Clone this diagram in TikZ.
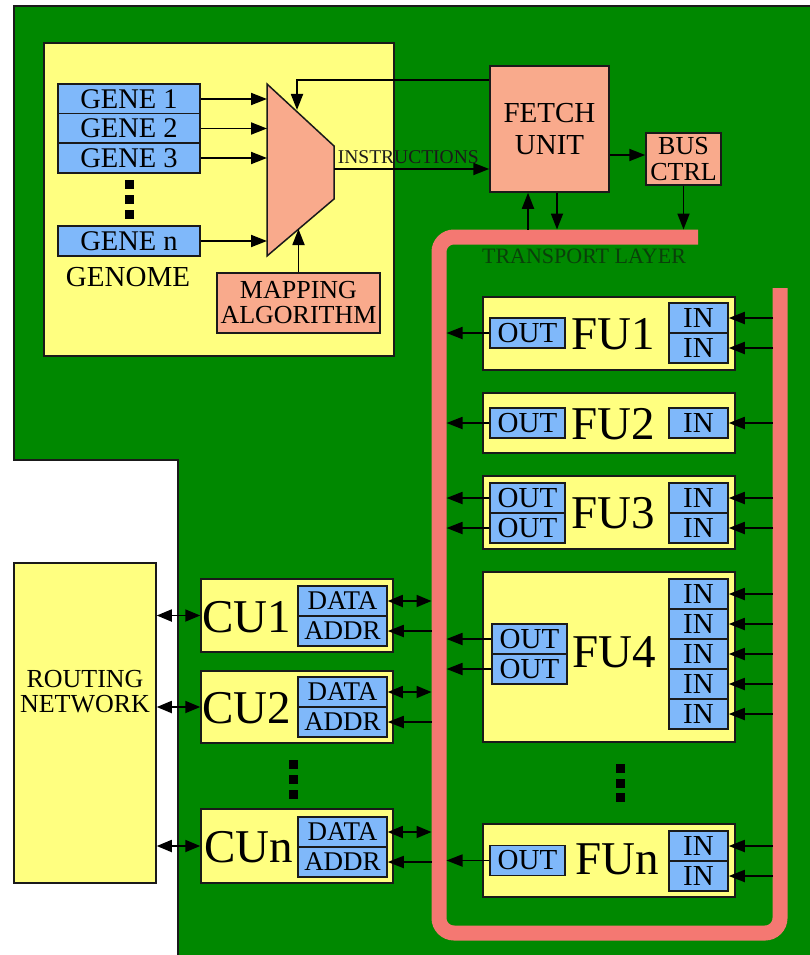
\documentclass[tikz,border=0pt]{standalone}
\usepackage{fontspec}
\setmainfont{Liberation Serif}
\usetikzlibrary{arrows.meta,positioning}
\definecolor{board}{HTML}{008800}
\definecolor{ink}{HTML}{1A1A1A}
\definecolor{pale}{HTML}{FFFF80}
\definecolor{port}{HTML}{7FB8FA}
\definecolor{unit}{HTML}{F9AA8C}
\definecolor{layercol}{HTML}{F47872}
\definecolor{layerink}{HTML}{0A3F0A}
\newcommand{\fsz}[2]{\fontsize{#1}{#2}\selectfont}
\tikzset{
  panel/.style={draw=ink,fill=pale,line width=1.5pt,inner sep=0pt},
  unitbox/.style={draw=ink,fill=unit,line width=1.5pt,inner sep=0pt,align=center},
  portbox/.style={draw=ink,fill=port,line width=1.5pt,inner sep=0pt,
                  minimum height=30pt,font=\fsz{29}{30}},
  genebox/.style={portbox,minimum width=142pt,font=\fsz{28.5}{30}},
  outbox/.style={portbox,minimum width=75pt},
  inbox/.style={portbox,minimum width=59pt},
  cuport/.style={portbox,minimum width=89pt,font=\fsz{27}{30}},
  biglabel/.style={font=\fsz{47}{50},inner sep=0pt},
  arr/.style={-{Triangle[length=16pt,width=12pt]},line width=1.8pt},
  dblarr/.style={{Triangle[length=15pt,width=12pt]}-{Triangle[length=15pt,width=12pt]},line width=1.8pt},
  layer/.style={draw=layercol,line width=15pt,rounded corners=15pt}
}

\begin{document}
\begin{tikzpicture}[x=1pt,y=-1pt]
  \useasboundingbox (0,0) rectangle (810,955);
  \draw[fill=board,draw=ink,line width=1.5pt] (14,6) -- (816,6) -- (816,961) -- (178,961)
    -- (178,460) -- (14,460) -- cycle;

  \node[panel,minimum width=350pt,minimum height=313pt] (genome) at (219,199.5) {};
  \node[genebox] (g1) at (129,99) {GENE 1};
  \node[genebox] (g2) at (129,128.5) {GENE 2};
  \node[genebox] (g3) at (129,158) {GENE 3};
  \node[genebox] (gn) at (129,241) {GENE n};
  \node[font=\fsz{29}{30}] (genomelbl) at (128,277) {GENOME};
  \draw[draw=ink,fill=unit,line width=1.5pt] (267,84) coordinate (muxtl) -- (334,146)
    -- (334,199) -- (267,256) coordinate (muxbl) -- cycle;
  \coordinate (muxout) at (334,169);
  \coordinate (muxin) at (297,110);
  \coordinate (muxmap) at (298.5,229);
  \foreach \g in {g1,g2,g3,gn}
    \draw[arr] (\g.east) -- (\g.east -| muxtl);
  \node[unitbox,minimum width=163pt,minimum height=60pt,font=\fsz{26}{25}] (mapalg) at (298.5,303) {MAPPING\\ALGORITHM};
  \draw[arr] (mapalg.north) -- (muxmap);

  \node[unitbox,minimum width=119pt,minimum height=126pt,font=\fsz{29}{32}] (fetch) at (549.5,129) {FETCH\\UNIT};
  \node[unitbox,minimum width=75pt,minimum height=52pt,font=\fsz{26}{26}] (busctrl) at (683.5,159) {BUS\\CTRL};
  \draw[arr] ([yshift=-15pt]fetch.north west) -| (muxin);
  \draw[arr] (muxout) -- (muxout -| fetch.west)
    node[pos=0,anchor=base west,xshift=2pt,yshift=6pt,inner sep=1pt,font=\fsz{19.5}{20},text=ink] (instr) {INSTRUCTIONS};
  \draw[arr] ([yshift=4pt]busctrl.west -| fetch.east) -- ([yshift=4pt]busctrl.west);

  \coordinate (tlL) at (431.5,0);
  \coordinate (tlLi) at (446.5,0);
  \coordinate (tlR) at (772.5,0);
  \coordinate (tlT) at (0,229.5);
  \draw[layer] (698,237) -- (439,237) -- (439,933) -- (780,933) -- (780,288);
  \node[font=\fsz{22}{24},text=layerink] (tlabel) at (584,256) {TRANSPORT LAYER};
  \draw[arr] ([xshift=-21.5pt]fetch.south |- tlT) -- ([xshift=-21.5pt]fetch.south);
  \draw[arr] ([xshift=7.5pt]fetch.south) -- ([xshift=7.5pt]fetch.south |- tlT);
  \draw[arr] (busctrl.south) -- (busctrl.south |- tlT);

  \node[panel,minimum width=252pt,minimum height=73pt] (fu1) at (609,333.5) {};
  \node[outbox] (fu1o) at (527.5,333) {OUT};
  \node[inbox] (fu1i1) at (698.5,318) {IN};
  \node[inbox] (fu1i2) at (698.5,348) {IN};
  \node[biglabel] (fu1l) at (613,334) {FU1};

  \node[panel,minimum width=252pt,minimum height=60pt] (fu2) at (609,423) {};
  \node[outbox] (fu2o) at (527.5,423) {OUT};
  \node[inbox] (fu2i1) at (698.5,423) {IN};
  \node[biglabel] (fu2l) at (613,424) {FU2};

  \node[panel,minimum width=252pt,minimum height=73pt] (fu3) at (609,512.5) {};
  \node[outbox] (fu3o1) at (527.5,498) {OUT};
  \node[outbox] (fu3o2) at (527.5,528) {OUT};
  \node[inbox] (fu3i1) at (698.5,498) {IN};
  \node[inbox] (fu3i2) at (698.5,528) {IN};
  \node[biglabel] (fu3l) at (613,513) {FU3};

  \node[panel,minimum width=252pt,minimum height=170pt] (fu4) at (609,657) {};
  \node[outbox] (fu4o1) at (529.5,639) {OUT};
  \node[outbox] (fu4o2) at (529.5,669) {OUT};
  \foreach \k/\y in {1/594,2/624,3/654,4/684,5/714}
    \node[inbox] (fu4i\k) at (698.5,\y) {IN};
  \node[biglabel] (fu4l) at (614,652) {FU4};

  \node[panel,minimum width=252pt,minimum height=73pt] (fun) at (609,860.5) {};
  \node[outbox] (funo) at (527.5,860.5) {OUT};
  \node[inbox] (funi1) at (698.5,846) {IN};
  \node[inbox] (funi2) at (698.5,876) {IN};
  \node[biglabel] (funl) at (617,859) {FUn};

  \foreach \o in {fu1o,fu2o,fu3o1,fu3o2,fu4o1,fu4o2,funo}
    \draw[arr] (\o.west) -- (\o.west -| tlLi);
  \foreach \i in {fu1i1,fu1i2,fu2i1,fu3i1,fu3i2,fu4i1,fu4i2,fu4i3,fu4i4,fu4i5,funi1,funi2}
    \draw[arr] (\i.east -| tlR) -- (\i.east);

  \node[panel,minimum width=192pt,minimum height=73pt] (cu1) at (297,615.5) {};
  \node[cuport] (cu1d) at (342.5,601) {DATA};
  \node[cuport] (cu1a) at (342.5,631) {ADDR};
  \node[biglabel] (cu1l) at (247,617) {CU1};

  \node[panel,minimum width=192pt,minimum height=72pt] (cu2) at (297,707) {};
  \node[cuport] (cu2d) at (342.5,692) {DATA};
  \node[cuport] (cu2a) at (342.5,722) {ADDR};
  \node[biglabel] (cu2l) at (247,708) {CU2};

  \node[panel,minimum width=192pt,minimum height=74pt] (cun) at (297,846) {};
  \node[cuport] (cund) at (342.5,832) {DATA};
  \node[cuport] (cuna) at (342.5,862) {ADDR};
  \node[biglabel] (cunl) at (249,847) {CUn};

  \node[panel,minimum width=142pt,minimum height=320pt] (router) at (85,723) {};
  \node[font=\fsz{26}{25},align=center] (routerl) at (85,692) {ROUTING\\NETWORK};

  \foreach \c in {cu1,cu2,cun}
    \draw[dblarr] (\c.west -| router.east) -- (\c.west);
  \foreach \d/\a in {cu1d/cu1a,cu2d/cu2a,cund/cuna} {
    \draw[dblarr] (\d.east) -- (\d.east -| tlL);
    \draw[arr] (\a.east -| tlL) -- (\a.east);
  }

  \foreach \x/\y in {129/184,129/199,129/214,293/764,293/779,293/794,620/768,620/783,620/797}
    \fill (\x-4.5,\y-4.5) rectangle (\x+4.5,\y+4.5);
\end{tikzpicture}
\end{document}
